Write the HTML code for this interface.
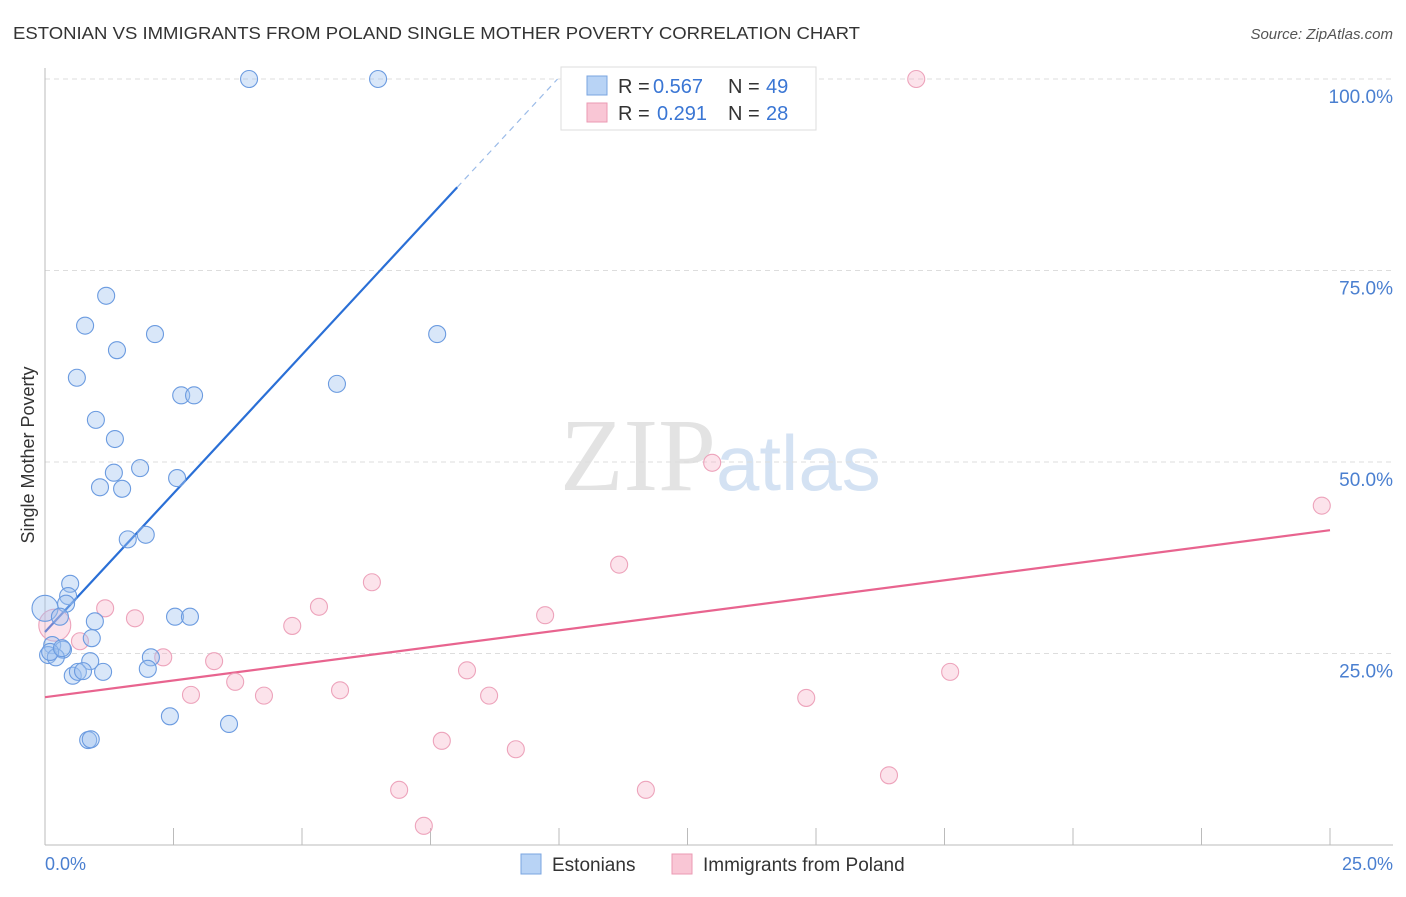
<!DOCTYPE html>
<html><head><meta charset="utf-8"><style>
body{margin:0;background:#fff;font-family:"Liberation Sans",sans-serif}
</style></head><body>
<svg width="1406" height="892" xmlns="http://www.w3.org/2000/svg" font-family="Liberation Sans, sans-serif">
<text x="13" y="39" font-size="17.5" fill="#333" textLength="847" lengthAdjust="spacingAndGlyphs">ESTONIAN VS IMMIGRANTS FROM POLAND SINGLE MOTHER POVERTY CORRELATION CHART</text>
<text x="1393" y="39" font-size="15" fill="#555" font-style="italic" text-anchor="end">Source: ZipAtlas.com</text>
<text x="716" y="490" font-size="104" fill="#e3e3e3" font-family="Liberation Serif, serif" text-anchor="end">ZIP</text>
<text x="716" y="490" font-size="78" fill="#d4e2f3">atlas</text>
<g id="grid"></g><g id="axes"></g><g id="lines"></g><g id="pts"></g>
<text transform="translate(34,455) rotate(-90)" font-size="18" fill="#333" text-anchor="middle">Single Mother Poverty</text>
<text x="45" y="870" font-size="18" fill="#4a7fd0">0.0%</text>
<text x="1393" y="870" font-size="18" fill="#4a7fd0" text-anchor="end">25.0%</text>
<g>
<rect x="561" y="67" width="255" height="63" fill="#fff" stroke="#ddd"/>
<rect x="587" y="76" width="20" height="19" fill="#b8d3f5" stroke="#7aa5e0"/>
<rect x="587" y="103" width="20" height="19" fill="#f9c6d5" stroke="#eb9ab3"/>
<text x="618" y="93" font-size="20" fill="#333">R =</text>
<text x="653" y="93" font-size="20" fill="#3a76d4">0.567</text>
<text x="728" y="93" font-size="20" fill="#333">N =</text>
<text x="766" y="93" font-size="20" fill="#3a76d4">49</text>
<text x="618" y="120" font-size="20" fill="#333">R =</text>
<text x="657" y="120" font-size="20" fill="#3a76d4">0.291</text>
<text x="728" y="120" font-size="20" fill="#333">N =</text>
<text x="766" y="120" font-size="20" fill="#3a76d4">28</text>
</g>
<g>
<rect x="521" y="854" width="20" height="20" fill="#b8d3f5" stroke="#7aa5e0"/>
<text x="552" y="871" font-size="19" fill="#333">Estonians</text>
<rect x="672" y="854" width="20" height="20" fill="#f9c6d5" stroke="#eb9ab3"/>
<text x="703" y="871" font-size="19" fill="#333">Immigrants from Poland</text>
</g>
</svg>
<script>
const yTicks=[25,50,75,100];
const yTickLabels=["25.0%","50.0%","75.0%","100.0%"];
const xTicks=[0,2.5,5,7.5,10,12.5,15,17.5,20,22.5,25];
const blueX=[3.97,6.48,1.19,0.78,2.14,7.63,1.40,0.62,5.68,2.65,2.90,0.99,1.36,1.85,1.34,1.07,1.50,2.57,1.61,1.96,0.49,0.45,0.41,0,0.29,0.97,0.91,2.53,2.82,0.14,0.35,0.06,0.21,0.88,2.06,0.54,0.64,0.74,1.13,2.00,2.43,3.58,0.84,0.89,0.10,0.33];
const blueY=[100,100,71.7,67.8,66.7,66.7,64.6,61.0,60.2,58.7,58.7,55.5,53.0,49.2,48.6,46.7,46.5,47.9,39.9,40.5,34.1,32.5,31.5,30.9,29.8,29.2,27.0,29.8,29.8,26.1,25.5,24.8,24.5,24.0,24.5,22.1,22.6,22.7,22.6,23.0,16.8,15.8,13.7,13.8,25.2,25.7];
const pinkX=[16.95,12.98,24.84,11.17,6.36,1.17,5.33,9.73,1.75,0.19,4.81,0.68,2.30,3.29,8.21,17.61,3.70,2.84,4.26,8.64,5.74,14.81,7.72,9.16,16.42,6.89,11.69,7.37];
const pinkY=[100,49.9,44.3,36.6,34.3,30.9,31.1,30.0,29.6,28.7,28.6,26.6,24.5,24.0,22.8,22.6,21.3,19.6,19.5,19.5,20.2,19.2,13.6,12.5,9.1,7.2,7.2,2.5];
const blueLine=[27.8,7.24]; // intercept, slope
const pinkLine=[19.3,0.872];
const NS="http://www.w3.org/2000/svg";
const sx=v=>45+v*51.4, sy=v=>845-v*7.66;
function mk(t,a,p){const e=document.createElementNS(NS,t);for(const k in a)e.setAttribute(k,a[k]);document.getElementById(p).appendChild(e);return e;}
yTicks.forEach((t,i)=>{
 const g=mk('line',{x1:45,x2:1393,y1:sy(t),y2:sy(t),stroke:'#ddd','stroke-dasharray':'5,4'},'grid');
 
 
 const l=mk('text',{x:1393,y:sy(t)+24,'font-size':19,fill:'#4a7fd0','text-anchor':'end'},'grid');
 l.textContent=yTickLabels[i];
 
 
});
let a=mk('line',{x1:45,x2:45,y1:68,y2:845,stroke:'#bbb'},'axes');


a=mk('line',{x1:45,x2:1393,y1:845,y2:845,stroke:'#bbb'},'axes');


xTicks.forEach(t=>{const e=mk('line',{x1:sx(t),x2:sx(t),y1:828,y2:845,stroke:'#bbb'},'axes');
 
 });
const bx1=8.02;
let e=mk('line',{x1:sx(0),y1:sy(blueLine[0]),x2:sx(bx1),y2:sy(blueLine[0]+blueLine[1]*bx1),stroke:'#2a6fd6','stroke-width':2.2},'lines');


const bx2=(100-blueLine[0])/blueLine[1];
e=mk('line',{x1:sx(bx1),y1:sy(blueLine[0]+blueLine[1]*bx1),x2:sx(bx2),y2:sy(100),stroke:'#9bbbe8','stroke-width':1.2,'stroke-dasharray':'6,5'},'lines');


e=mk('line',{x1:sx(0),y1:sy(pinkLine[0]),x2:sx(25),y2:sy(pinkLine[0]+pinkLine[1]*25),stroke:'#e8648f','stroke-width':2.2},'lines');


pinkX.forEach((x,i)=>{const c=mk('circle',{cx:sx(x),cy:sy(pinkY[i]),r:i==9?16:8.5,fill:'rgba(246,175,198,0.35)',stroke:'#eda3bb','stroke-width':1.1},'pts');
 
 });
blueX.forEach((x,i)=>{const c=mk('circle',{cx:sx(x),cy:sy(blueY[i]),r:i==23?13:8.5,fill:'rgba(160,196,240,0.4)',stroke:'#6b9be0','stroke-width':1.1},'pts');
 
 });
</script>
</body></html>
